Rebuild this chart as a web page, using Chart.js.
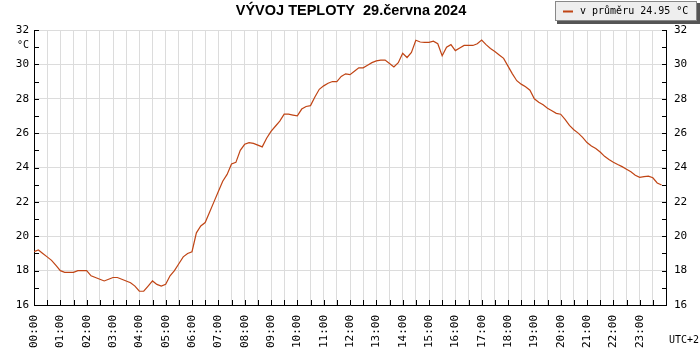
<!DOCTYPE html>
<html>
<head>
<meta charset="utf-8">
<script src="https://cdn.jsdelivr.net/npm/chart.js@4/dist/chart.umd.min.js"></script>
<style>
html,body{margin:0;padding:0;background:#fff;}
#wrap{width:700px;height:350px;position:relative;}
</style>
</head>
<body>
<div id="wrap"><canvas id="c" width="700" height="350"></canvas></div>
<script>
// ---- data ----
const titleText = 'VÝVOJ TEPLOTY  29.června 2024';
const legendText = 'v průměru 24.95 °C';
const unitText = '°C';
const tzText = 'UTC+2';
const stepMinutes = 10;           // sampling interval of the series
const yTickValues = [16, 18, 20, 22, 24, 26, 28, 30, 32];
const hourLabels = ['00:00','01:00','02:00','03:00','04:00','05:00','06:00','07:00','08:00','09:00','10:00','11:00',
  '12:00','13:00','14:00','15:00','16:00','17:00','18:00','19:00','20:00','21:00','22:00','23:00'];
const temperature = [
  19.1, 19.2, 19.0, 18.8, 18.6, 18.3,
  18.0, 17.9, 17.9, 17.9, 18.0, 18.0,
  18.0, 17.7, 17.6, 17.5, 17.4, 17.5,
  17.6, 17.6, 17.5, 17.4, 17.3, 17.1,
  16.8, 16.8, 17.1, 17.4, 17.2, 17.1,
  17.2, 17.7, 18.0, 18.4, 18.8, 19.0,
  19.1, 20.2, 20.6, 20.8, 21.4, 22.0,
  22.6, 23.2, 23.6, 24.2, 24.3, 25.0,
  25.35, 25.45, 25.4, 25.3, 25.2, 25.7,
  26.1, 26.4, 26.7, 27.1, 27.1, 27.05,
  27.0, 27.4, 27.55, 27.6, 28.1, 28.55,
  28.75, 28.9, 29.0, 29.0, 29.3, 29.45,
  29.4, 29.6, 29.8, 29.8, 29.95, 30.1,
  30.2, 30.25, 30.25, 30.05, 29.85, 30.1,
  30.65, 30.4, 30.7, 31.4, 31.3, 31.28,
  31.28, 31.35, 31.2, 30.5, 31.0, 31.15,
  30.8, 30.95, 31.1, 31.1, 31.1, 31.2,
  31.42, 31.15, 30.92, 30.75, 30.55, 30.35,
  29.9, 29.45, 29.05, 28.85, 28.7, 28.5,
  28.0, 27.8, 27.65, 27.45, 27.3, 27.15,
  27.1, 26.8, 26.45, 26.2, 26.0, 25.75,
  25.45, 25.25, 25.1, 24.9, 24.65, 24.47,
  24.3, 24.17, 24.05, 23.9, 23.75, 23.55,
  23.43, 23.47, 23.5, 23.4, 23.1, 22.98
];

// ---- styles ----
const LINE = '#c04515';
const GRID = '#dcdcdc';
const MONO = '"DejaVu Sans Mono", monospace';

const points = temperature.map((v, i) => ({x: i * stepMinutes, y: v}));

const innerTicks = {
  id: 'innerTicks',
  afterDraw(chart) {
    const ctx = chart.ctx, a = chart.chartArea;
    ctx.save();
    ctx.strokeStyle = '#000';
    ctx.lineWidth = 1;
    const xs = chart.scales.x;
    xs.ticks.forEach(t => {
      const px = Math.round(xs.getPixelForValue(t.value)) + 0.5;
      ctx.beginPath(); ctx.moveTo(px, a.bottom); ctx.lineTo(px, a.bottom - 5); ctx.stroke();
    });
    const yl = chart.scales.y;
    yl.ticks.forEach(t => {
      const py = Math.round(yl.getPixelForValue(t.value)) + 0.5;
      ctx.beginPath(); ctx.moveTo(a.left, py); ctx.lineTo(a.left + 5, py); ctx.stroke();
      ctx.beginPath(); ctx.moveTo(a.right, py); ctx.lineTo(a.right - 4, py); ctx.stroke();
    });
    // texts
    ctx.fillStyle = '#000';
    ctx.font = 'bold 14.5px "Liberation Sans", Arial, sans-serif';
    ctx.textAlign = 'center'; ctx.textBaseline = 'middle';
    ctx.fillText(titleText, 351, 11);
    ctx.font = '10px ' + MONO;
    ctx.textAlign = 'right';
    ctx.fillText(unitText, 29, 45);
    ctx.textAlign = 'left';
    ctx.fillText(tzText, 669, 340);
    // legend box
    ctx.fillStyle = '#555';
    ctx.fillRect(557, 3, 143, 21);
    ctx.fillStyle = '#eeeeee';
    ctx.fillRect(555, 1, 142, 20);
    ctx.strokeStyle = '#888';
    ctx.strokeRect(555.5, 1.5, 141, 19);
    ctx.strokeStyle = LINE; ctx.lineWidth = 2;
    ctx.beginPath(); ctx.moveTo(563, 11.5); ctx.lineTo(573, 11.5); ctx.stroke();
    ctx.fillStyle = '#000';
    ctx.font = '10px ' + MONO;
    ctx.textAlign = 'left'; ctx.textBaseline = 'middle';
    ctx.fillText(legendText, 580, 11.5);
    ctx.restore();
  }
};

new Chart(document.getElementById('c'), {
  type: 'line',
  data: {
    datasets: [{
      data: points,
      borderColor: LINE,
      borderWidth: 1.2,
      pointRadius: 0,
      tension: 0,
      fill: false
    }]
  },
  options: {
    responsive: false,
    animation: false,
    events: [],
    layout: {padding: {top: 30, left: 0, right: 0, bottom: 0}},
    plugins: {legend: {display: false}, title: {display: false}, tooltip: {enabled: false}},
    scales: {
      x: {
        type: 'linear', min: 0, max: 1440,
        afterFit: s => { s.height = 45; },
        border: {display: true, color: '#000', width: 1},
        grid: {color: GRID, drawTicks: false, lineWidth: 1},
        ticks: {
          stepSize: 30, autoSkip: false, maxRotation: 90, minRotation: 90, padding: 10,
          color: '#000', font: {family: MONO, size: 11},
          callback: v => (v % 60 === 0 && v < 1440) ? hourLabels[v / 60] : ''
        }
      },
      y: {
        position: 'left', min: 16, max: 32,
        afterFit: s => { s.width = 34; },
        border: {display: true, color: '#000', width: 1},
        grid: {color: c => (c.tick && c.tick.value % 2 === 0) ? GRID : 'rgba(0,0,0,0)', drawTicks: false},
        ticks: {
          stepSize: 1, autoSkip: false, padding: 5, color: '#000', font: {family: MONO, size: 11},
          callback: v => yTickValues.includes(v) ? String(v) : ''
        }
      },
      y2: {
        position: 'right', min: 16, max: 32,
        afterFit: s => { s.width = 34; },
        border: {display: true, color: '#000', width: 1},
        grid: {display: false, drawTicks: false},
        ticks: {
          stepSize: 1, autoSkip: false, padding: 8, color: '#000', font: {family: MONO, size: 11},
          callback: v => yTickValues.includes(v) ? String(v) : ''
        }
      }
    }
  },
  plugins: [innerTicks]
});
</script>
</body>
</html>
